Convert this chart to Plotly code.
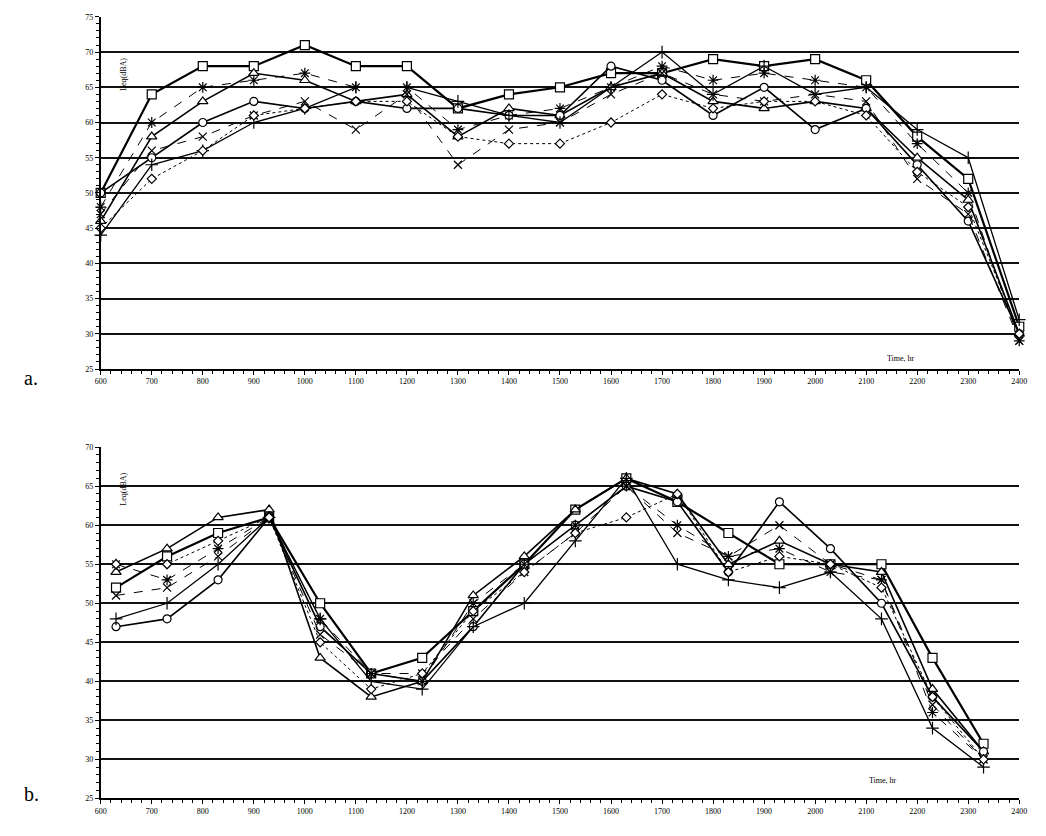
import plotly.graph_objects as go

# ---------------- data: panel a (hourly, 600-2400) ----------------
hours_a = [600, 700, 800, 900, 1000, 1100, 1200, 1300, 1400, 1500, 1600,
           1700, 1800, 1900, 2000, 2100, 2200, 2300, 2400]
a_square   = [50, 64, 68, 68, 71, 68, 68, 62, 64, 65, 67, 67, 69, 68, 69, 66, 58, 52, 31]
a_asterisk = [48, 60, 65, 66, 67, 65, 65, 59, 61, 62, 65, 68, 66, 67, 66, 65, 57, 50, 29]
a_triangle = [46, 58, 63, 67, 66, 63, 64, 58, 62, 61, 65, 67, 63, 62, 63, 62, 55, 49, 30]
a_circle   = [50, 55, 60, 63, 62, 63, 62, 62, 61, 61, 68, 66, 61, 65, 59, 62, 54, 46, 30]
a_x        = [47, 56, 58, 61, 63, 59, 64, 54, 59, 60, 64, 67, 64, 63, 64, 63, 52, 47, 29]
a_plus     = [44, 54, 56, 60, 62, 65, 65, 63, 61, 60, 65, 70, 64, 68, 64, 65, 59, 55, 32]
a_diamond  = [45, 52, 56, 61, 62, 63, 63, 58, 57, 57, 60, 64, 62, 63, 63, 61, 53, 48, 30]

# ---------------- data: panel b (readings at :30 past 600-2300) ----------------
hours_b = [630, 730, 830, 930, 1030, 1130, 1230, 1330, 1430, 1530, 1630,
           1730, 1830, 1930, 2030, 2130, 2230, 2330]
b_square   = [52, 56, 59, 61, 50, 41, 43, 49, 55, 62, 66, 63, 59, 55, 55, 55, 43, 32]
b_triangle = [54, 57, 61, 62, 43, 38, 40, 51, 56, 62, 66, 64, 55, 58, 55, 54, 39, 31]
b_circle   = [47, 48, 53, 61, 47, 41, 40, 47, 55, 60, 65, 63, 54, 63, 57, 50, 38, 31]
b_x        = [51, 52, 56, 61, 46, 41, 41, 48, 54, 59, 65, 59, 56, 60, 55, 53, 37, 30]
b_asterisk = [55, 53, 57, 61, 48, 41, 40, 50, 55, 60, 65, 60, 56, 57, 54, 53, 36, 30]
b_plus     = [48, 50, 55, 61, 48, 40, 39, 47, 50, 58, 66, 55, 53, 52, 54, 48, 34, 29]
b_diamond  = [55, 55, 58, 61, 45, 39, 41, 49, 54, 59, 61, 64, 54, 56, 55, 52, 38, 30]

x_ticks = list(range(600, 2401, 100))
ya_ticks = list(range(25, 76, 5))
yb_ticks = list(range(25, 71, 5))

# ---------------- styles ----------------
styles = {
    "square":   dict(symbol="square",           size=9, fill="white", width=2.2, dash="solid"),
    "asterisk": dict(symbol="asterisk-open",    size=9, fill="black", width=1.0, dash="dash"),
    "triangle": dict(symbol="triangle-up",      size=9, fill="white", width=1.6, dash="solid"),
    "circle":   dict(symbol="circle",           size=8, fill="white", width=1.6, dash="solid"),
    "x":        dict(symbol="x-thin-open",      size=8, fill="black", width=1.0, dash="dash"),
    "plus":     dict(symbol="cross-thin-open",  size=9, fill="black", width=1.3, dash="solid"),
    "diamond":  dict(symbol="diamond",          size=7, fill="white", width=1.0, dash="dot"),
}

series_a = [("square", a_square), ("asterisk", a_asterisk), ("triangle", a_triangle),
            ("circle", a_circle), ("x", a_x), ("plus", a_plus), ("diamond", a_diamond)]
series_b = [("square", b_square), ("triangle", b_triangle), ("circle", b_circle),
            ("x", b_x), ("asterisk", b_asterisk), ("plus", b_plus), ("diamond", b_diamond)]

fig = go.Figure()


def add(xs, name, ys, xa, ya):
    st = styles[name]
    fig.add_trace(go.Scatter(
        x=xs, y=ys, mode="lines+markers", name=name, xaxis=xa, yaxis=ya,
        line=dict(color="black", width=st["width"], dash=st["dash"]),
        marker=dict(symbol=st["symbol"], size=st["size"], color=st["fill"],
                    line=dict(color="black", width=1.2)),
        showlegend=False, cliponaxis=False))


for n, ys in series_a:
    add(hours_a, n, ys, "x", "y")
for n, ys in series_b:
    add(hours_b, n, ys, "x2", "y2")

tickfont = dict(family="Liberation Serif, serif", size=8, color="black")
common_x = dict(range=[600, 2400], tickmode="array", tickvals=x_ticks,
                ticktext=[str(v) for v in x_ticks], showgrid=False, zeroline=False,
                showline=True, linecolor="black", linewidth=1.5, ticks="outside",
                ticklen=4, tickcolor="black", tickfont=tickfont,
                minor=dict(dtick=20, ticks="outside", ticklen=3, tickcolor="black", showgrid=False))
common_y = dict(showgrid=True, gridcolor="#111", gridwidth=2, zeroline=False,
                showline=True, linecolor="black", linewidth=1.5, ticks="outside",
                ticklen=4, tickcolor="black", tickfont=tickfont,
                minor=dict(dtick=1, ticks="outside", ticklen=3, tickcolor="black", showgrid=False))

fig.update_layout(
    width=1046, height=836, margin=dict(l=0, r=0, t=0, b=0),
    paper_bgcolor="white", plot_bgcolor="white",
    xaxis=dict(domain=[96/1046, 1027/1046], anchor="y", **common_x),
    yaxis=dict(domain=[1-369/836, 1-13/836], anchor="x", range=[25, 75],
               tickvals=ya_ticks, **common_y),
    xaxis2=dict(domain=[96/1046, 1027/1046], anchor="y2", **common_x),
    yaxis2=dict(domain=[1-803/836, 1-448/836], anchor="x2", range=[25, 70],
                tickvals=yb_ticks, **common_y),
)

ann_font = dict(family="Liberation Serif, serif", size=8, color="black")
fig.add_annotation(x=923/1046, y=1-358/836, xref="paper", yref="paper", text="Time, hr",
                   showarrow=False, font=ann_font)
fig.add_annotation(x=905/1046, y=1-792/836, xref="paper", yref="paper", text="Time, hr",
                   showarrow=False, font=ann_font)
fig.add_annotation(x=113/1046, y=1-52/836, xref="paper", yref="paper", text="Leq(dBA)",
                   showarrow=False, textangle=-90, font=ann_font)
fig.add_annotation(x=113/1046, y=1-490/836, xref="paper", yref="paper", text="Leq(dBA)",
                   showarrow=False, textangle=-90, font=ann_font)

label_font = dict(family="Liberation Serif, Times New Roman, serif", size=20, color="black")
fig.add_annotation(x=16/1046, y=1-378/836, xref="paper", yref="paper", text="a.",
                   showarrow=False, font=label_font)
fig.add_annotation(x=16/1046, y=1-812/836, xref="paper", yref="paper", text="b.",
                   showarrow=False, font=label_font)

fig.write_html("out.html")
